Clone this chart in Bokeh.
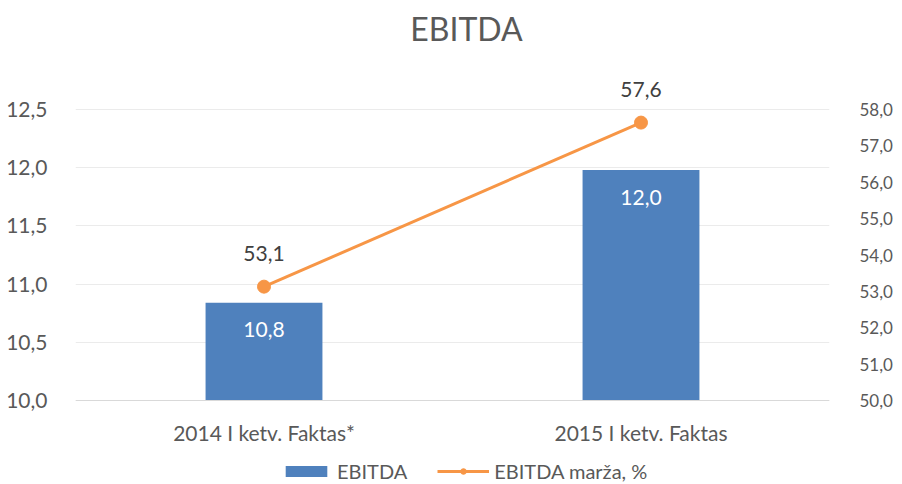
from bokeh.plotting import figure
from bokeh.models import (ColumnDataSource, Range1d, LinearAxis, FixedTicker, Span,
                          CustomJSTickFormatter, Legend, LegendItem, Label, LabelSet)
from bokeh.core.properties import value
from bokeh.embed import file_html
from bokeh.resources import INLINE

categories = ["2014 I ketv. Faktas*", "2015 I ketv. Faktas"]
ebitda = [10.84, 11.98]
margin = [53.13, 57.64]
left_ticks = [10.0, 10.5, 11.0, 11.5, 12.0, 12.5]
right_ticks = [50.0, 51.0, 52.0, 53.0, 54.0, 55.0, 56.0, 57.0, 58.0]

FONT = "Lato"
GREY = "#595959"
BLUE = "#4F81BD"
ORANGE = "#F79646"

W, H = 902, 484
# tick span: 12.5 / 58.0 at y=109 px, 10.0 / 50.0 at y=400 px; frame covers full height
Y_TOP_PX, Y_BASE_PX = 109, 400
L_PER_PX = 2.5 / (Y_BASE_PX - Y_TOP_PX)
R_PER_PX = 8.0 / (Y_BASE_PX - Y_TOP_PX)
L_START, L_END = 10.0 - (H - Y_BASE_PX) * L_PER_PX, 12.5 + Y_TOP_PX * L_PER_PX
R_START, R_END = 50.0 - (H - Y_BASE_PX) * R_PER_PX, 58.0 + Y_TOP_PX * R_PER_PX

def fmt(v):
    return f"{v:.1f}".replace(".", ",")

src = ColumnDataSource(dict(
    cat=categories, ebitda=ebitda, margin=margin, base=[10.0] * len(categories),
    elab=[fmt(v) for v in ebitda], mlab=[fmt(v) for v in margin],
))

p = figure(x_range=categories, y_range=Range1d(L_START, L_END), width=W, height=H,
           output_backend="svg", toolbar_location=None, x_axis_location=None,
           min_border_left=75, min_border_right=W - 829, min_border_top=0,
           min_border_bottom=0)
p.extra_y_ranges = {"m": Range1d(R_START, R_END)}
p.outline_line_color = None
p.background_fill_color = "white"
p.border_fill_color = "white"

formatter = CustomJSTickFormatter(code="return tick.toFixed(1).replace('.', ',');")

p.xgrid.grid_line_color = None
p.ygrid.grid_line_color = "#EBEBEB"
p.ygrid.ticker = FixedTicker(ticks=left_ticks)
p.add_layout(Span(location=10.0, dimension="width", line_color="#D9D9D9", line_width=1))

bars = p.vbar(x="cat", top="ebitda", bottom="base", width=0.31, source=src,
              fill_color=BLUE, line_color=None)
line = p.line(x="cat", y="margin", source=src, y_range_name="m",
              line_color=ORANGE, line_width=3)
dots = p.scatter(x="cat", y="margin", source=src, y_range_name="m",
                 size=13, fill_color=ORANGE, line_color=ORANGE)

p.add_layout(LabelSet(x="cat", y="ebitda", text="elab", source=src, y_offset=-27,
                      text_align="center", text_baseline="middle", text_color="white",
                      text_font=value(FONT), text_font_size="21px"))
p.add_layout(LabelSet(x="cat", y="margin", text="mlab", source=src, y_range_name="m",
                      y_offset=33, text_align="center", text_baseline="middle",
                      text_color="#404040", text_font=value(FONT), text_font_size="21px"))
# category labels under the base line
p.add_layout(LabelSet(x="cat", y="base", text="cat", source=src, y_offset=-32,
                      text_align="center", text_baseline="middle", text_color=GREY,
                      text_font=value(FONT), text_font_size="21px"))

la = p.yaxis[0]
la.ticker = FixedTicker(ticks=left_ticks)
la.formatter = formatter
la.axis_line_color = None
la.major_tick_line_color = None
la.minor_tick_line_color = None
la.major_label_text_font = FONT
la.major_label_text_font_size = "21px"
la.major_label_text_color = GREY
la.major_label_standoff = 22

ra = LinearAxis(y_range_name="m", ticker=FixedTicker(ticks=right_ticks), formatter=formatter)
ra.axis_line_color = None
ra.major_tick_line_color = None
ra.minor_tick_line_color = None
ra.major_label_text_font = FONT
ra.major_label_text_font_size = "17px"
ra.major_label_text_color = GREY
ra.major_label_standoff = 24
p.add_layout(ra, "right")

p.add_layout(Label(x=466 - 75, y=H - 28, x_units="screen", y_units="screen", text="EBITDA",
                   text_align="center", text_baseline="middle", text_font=FONT,
                   text_font_size="32px", text_color=GREY))

legend = Legend(items=[LegendItem(label="EBITDA", renderers=[bars]),
                       LegendItem(label="EBITDA marža, %", renderers=[line, dots])],
                orientation="horizontal", location=(280 - 75, 1),
                glyph_width=52, glyph_height=14, spacing=30, label_standoff=5,
                label_text_font=FONT, label_text_font_size="20px", label_text_color=GREY,
                border_line_color=None, background_fill_alpha=0, padding=0, margin=0)
p.add_layout(legend)

open("out.html", "w").write(file_html(p, INLINE))
